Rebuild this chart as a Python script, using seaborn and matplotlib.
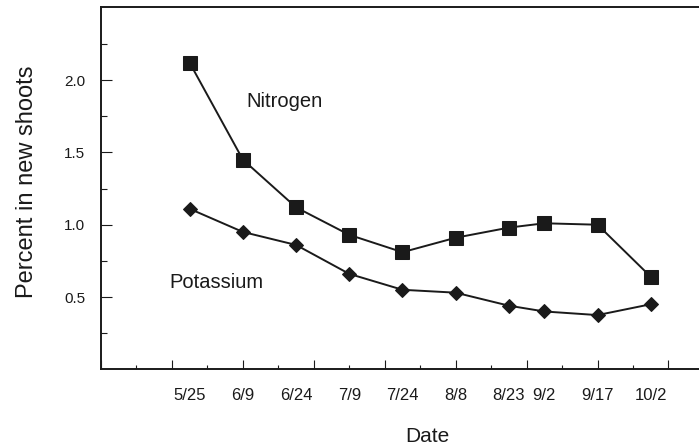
import matplotlib
matplotlib.use("Agg")
import matplotlib.pyplot as plt
from matplotlib.ticker import MultipleLocator, FixedLocator
import seaborn as sns
import pandas as pd

# ---- data ----
date_labels = ["5/25", "6/9", "6/24", "7/9", "7/24", "8/8", "8/23", "9/2", "9/17", "10/2"]
day_of_year = [145, 160, 175, 190, 205, 220, 235, 245, 260, 275]
nitrogen = [2.12, 1.45, 1.12, 0.93, 0.81, 0.91, 0.98, 1.01, 1.00, 0.64]
potassium = [1.11, 0.95, 0.86, 0.66, 0.55, 0.53, 0.44, 0.40, 0.375, 0.45]
y_ticks = [0.5, 1.0, 1.5, 2.0]
y_ticklabels = ["0.5", "1.0", "1.5", "2.0"]

df_n = pd.DataFrame({"day": day_of_year, "value": nitrogen})
df_k = pd.DataFrame({"day": day_of_year, "value": potassium})

sns.set_theme(style="ticks")
plt.rcParams["font.family"] = ["Liberation Sans", "DejaVu Sans"]

ink = "#1a1a1a"
fig = plt.figure(figsize=(6.99, 4.46), dpi=100)
ax = fig.add_axes([101 / 699, 1 - 369.3 / 446, 1 - 101 / 699, (369.3 - 6.7) / 446])

sns.lineplot(data=df_n, x="day", y="value", ax=ax, color=ink, lw=1.4,
             marker="s", markersize=9.7, markeredgecolor=ink, markerfacecolor=ink)
sns.lineplot(data=df_k, x="day", y="value", ax=ax, color=ink, lw=1.4,
             marker="D", markersize=6.8, markeredgecolor=ink, markerfacecolor=ink)

ax.set_xlim(120, 288.6)
ax.set_ylim(0, 2.508)

for s in ["left", "bottom", "top"]:
    ax.spines[s].set_color(ink)
    ax.spines[s].set_linewidth(1.4)
ax.spines["right"].set_visible(False)

# x ticks: unlabeled ticks every 20 days, minor every 10
ax.xaxis.set_major_locator(MultipleLocator(20))
ax.xaxis.set_minor_locator(MultipleLocator(10))
ax.tick_params(axis="x", which="major", direction="in", length=6.5, width=0.8,
               color=ink, labelbottom=False, top=False)
ax.tick_params(axis="x", which="minor", direction="in", length=3, width=0.8,
               color=ink, labelbottom=False, top=False)

ax.yaxis.set_major_locator(FixedLocator(y_ticks))
ax.set_yticklabels(y_ticklabels)
ax.yaxis.set_minor_locator(FixedLocator([0.25, 0.75, 1.25, 1.75, 2.25]))
ax.tick_params(axis="y", which="major", direction="in", length=7.7, width=0.8,
               color=ink, pad=11.5, labelsize=11, labelcolor=ink, right=False)
ax.tick_params(axis="y", which="minor", direction="in", length=4, width=0.8,
               color=ink, right=False)

# date labels under the axis
for d, lab in zip(day_of_year, date_labels):
    ax.text(d, -0.0847, lab, transform=ax.get_xaxis_transform(), ha="center",
            va="baseline", fontsize=12, color=ink)

ax.set_xlabel("Date", fontsize=15, color=ink)
ax.xaxis.set_label_coords(0.545, -0.158)
ax.set_ylabel("Percent in new shoots", fontsize=17, color=ink)
ax.yaxis.set_label_coords(-0.105, 0.518)

ax.text(161.1, 1.816, "Nitrogen", fontsize=14.5, color=ink, ha="left", va="baseline")
ax.text(139.3, 0.560, "Potassium", fontsize=14.5, color=ink, ha="left", va="baseline")

fig.savefig("out.png", dpi=100, facecolor="white")
